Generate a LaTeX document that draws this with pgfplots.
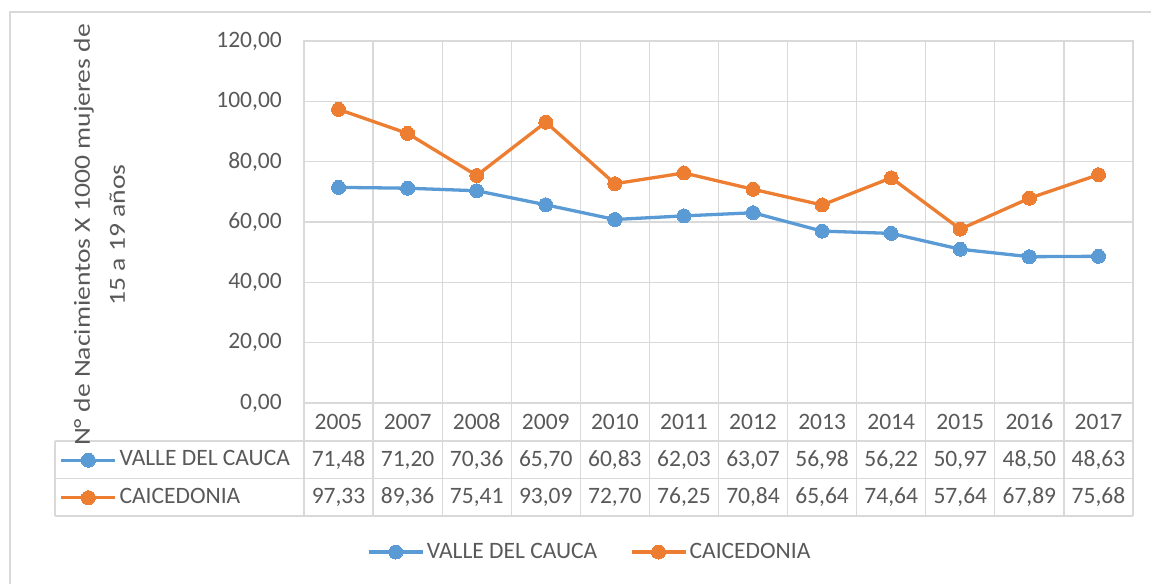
\documentclass[border=0pt]{standalone}
\usepackage{fontspec}
\setmainfont{Carlito}
\newfontfamily\ylabfamily{Carlito}[FakeStretch=1.2]
\usepackage{pgfplots}
\pgfplotsset{compat=1.18}
\usepackage{pgfplotstable}
\definecolor{vallec}{RGB}{91,155,213}
\definecolor{caic}{RGB}{237,125,49}
\definecolor{gridgray}{RGB}{217,217,217}
\definecolor{textgray}{RGB}{89,89,89}
\newcommand\chartfont{\fontsize{23.5bp}{35bp}\selectfont}
\newcommand\ylabfont{\ylabfamily\fontsize{23bp}{35bp}\selectfont}

\pgfplotstableread{
x year valle caic
0 2005 71.48 97.33
1 2007 71.20 89.36
2 2008 70.36 75.41
3 2009 65.70 93.09
4 2010 60.83 72.70
5 2011 62.03 76.25
6 2012 63.07 70.84
7 2013 56.98 65.64
8 2014 56.22 74.64
9 2015 50.97 57.64
10 2016 48.50 67.89
11 2017 48.63 75.68
}\datatable

\begin{document}
\begin{tikzpicture}
\useasboundingbox (0bp,0bp) rectangle (1151bp,-584bp);
\begin{scope}[x=1bp, y=-1bp]
% outer chart border
\draw[gridgray, line width=2bp] (10,600) -- (10,12) -- (1170,12);
% vertical category boundaries through plot and table
\foreach \i in {0,...,12} {
  \draw[gridgray, line width=1.2bp] ({304+\i*69.083},41) -- ({304+\i*69.083},516);
}
% table horizontal lines
\foreach \yy in {441,478.5,516} {
  \draw[gridgray, line width=1.2bp] (55,\yy) -- (1133,\yy);
}
\draw[gridgray, line width=1.2bp] (55,441) -- (55,516);
\end{scope}

\begin{axis}[
  at={(304bp,-403bp)}, anchor=south west,
  width=829bp, height=362bp, scale only axis,
  clip=false,
  xmin=-0.5, xmax=11.5, ymin=0, ymax=120,
  xtick={0,...,11},
  xticklabels from table={\datatable}{year},
  ytick={0,20,...,120},
  ymajorgrids,
  grid style={gridgray, line width=1.2bp},
  axis line style={gridgray, line width=1.2bp},
  major tick length=0pt,
  tick style={draw=none},
  /pgf/number format/.cd, use comma, fixed, fixed zerofill, precision=2, 1000 sep={}, assume math mode=true,
  /pgfplots/.cd,
  ticklabel style={font=\chartfont, text=textgray},
  yticklabel style={anchor=east, inner sep=0pt, xshift=-22bp},
  xticklabel style={anchor=center, inner sep=0pt, yshift=-19bp},
  ylabel={N° de Nacimientos X 1000 mujeres de\\15 a 19 años},
  ylabel style={at={(axis description cs:-0.2467,0.4641)}, anchor=center, align=center, font=\ylabfont, text=textgray},
  legend style={at={(axis description cs:-0.2949,-0.1215)}, anchor=north west, draw=none, fill=none, inner sep=0pt, row sep=11.5bp,
    nodes={inner sep=2.5bp, text height=16bp, text depth=5bp, font=\chartfont, text=textgray}},
  legend cell align=left,
  legend image code/.code={\draw[#1, mark repeat=2, mark phase=2] plot coordinates {(0bp,0bp) (27bp,0bp) (54bp,0bp)};},
]
\addplot[vallec, line width=3.3bp, mark=*, mark size=7bp, mark options={solid, fill=vallec, draw=vallec, line width=0pt}]
  table[x=x, y=valle] {\datatable};
\addlegendentry{VALLE DEL CAUCA}
\addplot[caic, line width=3.3bp, mark=*, mark size=7bp, mark options={solid, fill=caic, draw=caic, line width=0pt}]
  table[x=x, y=caic] {\datatable};
\addlegendentry{CAICEDONIA}
% data table values
\addplot[forget plot, draw=none, mark=none, nodes near coords, point meta=explicit,
  nodes near coords style={anchor=center, inner sep=0pt, font=\chartfont, text=textgray}]
  table[x=x, y expr=-18.9, meta=valle] {\datatable};
\addplot[forget plot, draw=none, mark=none, nodes near coords, point meta=explicit,
  nodes near coords style={anchor=center, inner sep=0pt, font=\chartfont, text=textgray}]
  table[x=x, y expr=-31.2, meta=caic] {\datatable};
\end{axis}

\begin{axis}[
  at={(304bp,-403bp)}, anchor=south west,
  width=829bp, height=362bp, scale only axis,
  hide axis, xmin=0, xmax=1, ymin=0, ymax=1,
  legend columns=2,
  legend style={at={(axis description cs:0.345,-0.4116)}, anchor=center, draw=none, fill=none, inner sep=0pt,
    nodes={inner sep=2.5bp, font=\chartfont, text=textgray},
    /tikz/every even column/.append style={column sep=30bp}},
  legend cell align=left,
  legend image code/.code={\draw[#1, mark repeat=2, mark phase=2] plot coordinates {(0bp,0bp) (27bp,0bp) (54bp,0bp)};},
]
\addlegendimage{vallec, line width=3.3bp, mark=*, mark size=7bp, mark options={solid, fill=vallec, draw=vallec, line width=0pt}}
\addlegendentry{VALLE DEL CAUCA}
\addlegendimage{caic, line width=3.3bp, mark=*, mark size=7bp, mark options={solid, fill=caic, draw=caic, line width=0pt}}
\addlegendentry{CAICEDONIA}
\end{axis}
\end{tikzpicture}
\end{document}
